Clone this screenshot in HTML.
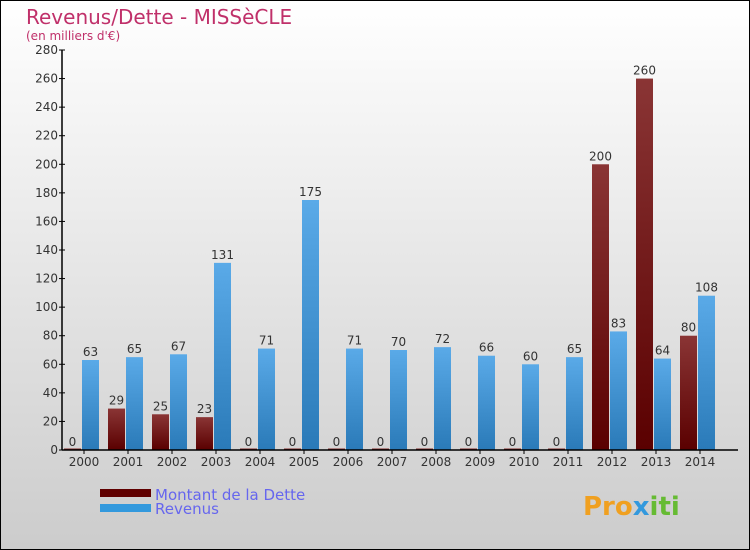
<!DOCTYPE html>
<html><head><meta charset="utf-8"><style>
body{margin:0}
svg{display:block;font-family:"DejaVu Sans","Liberation Sans",sans-serif}
</style></head><body>
<svg width="750" height="550" viewBox="0 0 750 550">
<defs>
<linearGradient id="bg" x1="0" y1="0" x2="0" y2="1"><stop offset="0" stop-color="#ffffff"/><stop offset="1" stop-color="#cccccc"/></linearGradient>
<linearGradient id="gd" x1="0" y1="0" x2="0" y2="1"><stop offset="0" stop-color="#8a3535"/><stop offset="1" stop-color="#5a0000"/></linearGradient>
<linearGradient id="gr" x1="0" y1="0" x2="0" y2="1"><stop offset="0" stop-color="#5aaae8"/><stop offset="1" stop-color="#2a7ab8"/></linearGradient>
</defs>
<rect x="0.5" y="0.5" width="749" height="549" fill="url(#bg)" stroke="#000"/>
<text x="26" y="24" font-size="20" fill="#c0306a">Revenus/Dette - MISSèCLE</text>
<text x="26" y="40" font-size="12" fill="#c0306a">(en milliers d'€)</text>
<g id="plot"></g>
<g>
<rect x="100" y="489" width="51" height="8" fill="#600000"/>
<rect x="100" y="504" width="51" height="8" fill="#3399dd"/>
<text x="155" y="500" font-size="15" fill="#6666ee">Montant de la Dette</text>
<text x="155" y="514" font-size="15" fill="#6666ee">Revenus</text>
</g>
<text x="583" y="515" font-size="26" font-weight="bold" fill="#f0a020">Pro<tspan fill="#3399dd">x</tspan><tspan fill="#66bb33">iti</tspan></text>
</svg>
<script>
const years=["2000","2001","2002","2003","2004","2005","2006","2007","2008","2009","2010","2011","2012","2013","2014"];
const dette=[0,29,25,23,0,0,0,0,0,0,0,0,200,260,80];
const revenus=[63,65,67,131,71,175,71,70,72,66,60,65,83,64,108];
const yTicks=[0,20,40,60,80,100,120,140,160,180,200,220,240,260,280];
const NS="http://www.w3.org/2000/svg";
const g=document.getElementById('plot');
const X0=62,Y0=450,YTOP=50,YMAX=280,GW=44;
const y=v=>Y0-(v/YMAX)*(Y0-YTOP);
const cx=i=>X0+GW/2+GW*i;
function mk(t,a,p){const e=document.createElementNS(NS,t);for(const k in a)e.setAttribute(k,a[k]);(p||g).appendChild(e);return e;}
years.forEach((yr,i)=>{
 const c=cx(i);
 const d=mk('rect',{x:c-20,y:Math.min(y(dette[i]),Y0-1.5),width:17,height:Math.max(Y0-y(dette[i]),1.5),fill:'url(#gd)'});
 
 
 const r=mk('rect',{x:c-2,y:y(revenus[i]),width:17,height:Y0-y(revenus[i]),fill:'url(#gr)'});
 
 
 const t1=mk('text',{x:c-11.5,y:y(dette[i])-4,'font-size':12,'text-anchor':'middle',fill:'#333'});t1.textContent=dette[i];
 
 
 const t2=mk('text',{x:c+6.5,y:y(revenus[i])-4,'font-size':12,'text-anchor':'middle',fill:'#333'});t2.textContent=revenus[i];
 
 
 const xl=mk('text',{x:c,y:466,'font-size':12,'text-anchor':'middle',fill:'#333'});xl.textContent=yr;
 
 
 mk('line',{x1:c,x2:c,y1:Y0,y2:Y0+4,stroke:'#000'});
});
yTicks.forEach(v=>{
 mk('line',{x1:X0-3,x2:X0+3,y1:y(v),y2:y(v),stroke:'#000'});
 const t=mk('text',{x:X0-4,y:y(v)+4,'font-size':12,'text-anchor':'end',fill:'#333'});t.textContent=v;
 
 
});
const ya=mk('line',{x1:X0,x2:X0,y1:YTOP,y2:Y0,stroke:'#000','stroke-width':1.5});


const xa=mk('line',{x1:X0,x2:738,y1:Y0,y2:Y0,stroke:'#000','stroke-width':1.5});


</script>
</body></html>
